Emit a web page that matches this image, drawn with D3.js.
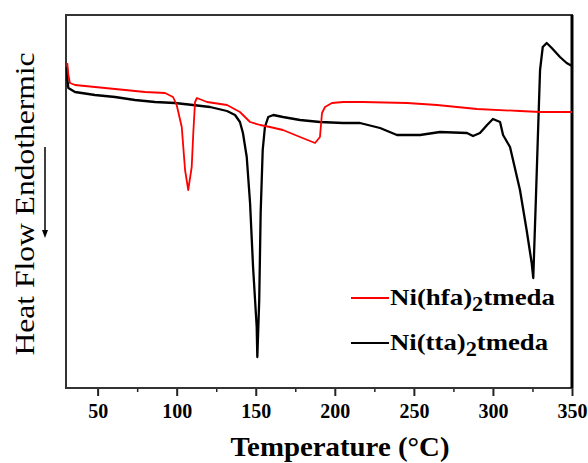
<!DOCTYPE html>
<html><head><meta charset="utf-8">
<script src="https://cdn.jsdelivr.net/npm/d3@7"></script>
<style>body{margin:0;background:#fff}svg{display:block}</style>
</head><body>
<svg id="c" width="588" height="463"></svg>
<script>
// Temperature (°C) and heat flow (a.u.)
const hfaT = [30.8,31.5,32.5,35.7,61.0,80.0,92.6,97.7,100.0,103.2,105.3,107.3,109.5,110.5,111.6,112.8,119.2,131.8,140.0,146.4,152.7,159.0,167.2,178.0,187.5,190.6,191.9,193.8,198.2,205.2,217.8,245.7,264.6,277.3,289.9,317.1,329.8,350];
const hfaV = [32.5,31.3,30.5,30.3,29.9,29.6,29.5,29.1,28.3,26.1,21.8,19.8,22.1,25.5,28.6,29.0,28.6,28.3,27.6,26.6,26.3,26.1,25.8,25.1,24.5,25.1,27.5,28.1,28.5,28.6,28.6,28.5,28.3,28.1,27.9,27.7,27.6,27.6];
const ttaT = [30.6,30.9,31.5,35.7,48.3,61.0,73.6,86.3,98.9,110.3,121.1,131.8,136.9,140.0,141.9,144.3,146.4,148.3,150.6,151.0,152.2,153.1,154.4,155.8,157.9,161.1,167.2,178.0,190.6,205.2,215.9,228.6,239.3,253.9,266.5,283.6,287.4,291.8,296.3,300.0,304.5,306.4,310.8,317.1,321.3,324.5,325.5,327.2,328.7,329.8,331.5,334.0,337.2,342.4,346.6,350];
const ttaV = [32.1,30.8,30.0,29.6,29.3,29.1,28.8,28.6,28.5,28.3,28.1,27.7,27.3,26.6,25.5,23.1,18.5,12.1,6.1,3.1,8.8,17.5,23.8,26.1,27.1,27.3,27.1,26.8,26.6,26.5,26.5,26.0,25.3,25.3,25.6,25.5,25.2,25.5,26.3,26.9,26.6,25.3,24.1,19.8,15.8,12.5,11.0,19.1,26.5,31.8,34.1,34.5,34.0,33.1,32.5,32.2];
const majorTicks = [50,100,150,200,250,300,350];
const minorTicks = [75,125,175,225,275,325];
const seriesNames = ["Ni(hfa)", "Ni(tta)"];
const seriesColors = ["#ff0000", "#000000"];
const xTitle = "Temperature (°C)";
const yTitle = "Heat Flow Endothermic";

const svg = d3.select("#c");
const L = 66, T = 15, R = 572, B = 388;
const x = d3.scaleLinear().domain([30, 350]).range([L, R]);
const y = d3.scaleLinear().domain([0, 37.3]).range([B, T]);

// minor ticks
svg.append("g").attr("transform", `translate(0,${B})`)
  .call(d3.axisBottom(x).tickValues(minorTicks).tickSize(4).tickFormat(""))
  .call(g => g.select(".domain").remove())
  .call(g => g.selectAll("line").attr("stroke", "#222").attr("stroke-width", 1.5));
// major ticks
const ax = svg.append("g").attr("transform", `translate(0,${B})`)
  .call(d3.axisBottom(x).tickValues(majorTicks).tickSize(8).tickPadding(8).tickFormat(d3.format("d")));
ax.select(".domain").remove();
ax.selectAll("line").attr("stroke", "#222").attr("stroke-width", 2);
ax.selectAll("text").attr("fill", "#000").attr("font-family", "Liberation Serif")
  .attr("font-weight", "bold").attr("font-size", 20).attr("dy", "0.71em");

// frame
svg.append("rect").attr("x", L).attr("y", T).attr("width", R - L).attr("height", B - T)
  .attr("fill", "none").attr("stroke", "#333").attr("stroke-width", 2);
svg.append("line").attr("x1", R).attr("x2", R).attr("y1", T).attr("y2", B)
  .attr("stroke", "#000").attr("stroke-width", 3);

// curves
const line = d3.line().x(d => x(d[0])).y(d => y(d[1]));
const hfa = hfaT.map((t, i) => [t, hfaV[i]]);
const tta = ttaT.map((t, i) => [t, ttaV[i]]);
svg.append("path").datum(tta).attr("d", line).attr("fill", "none")
  .attr("stroke", seriesColors[1]).attr("stroke-width", 2.3).attr("stroke-linejoin", "round");
svg.append("path").datum(hfa).attr("d", line).attr("fill", "none")
  .attr("stroke", seriesColors[0]).attr("stroke-width", 1.8).attr("stroke-linejoin", "round");

// axis titles
svg.append("text").attr("x", 340).attr("y", 456).attr("text-anchor", "middle")
  .attr("font-family", "Liberation Serif").attr("font-weight", "bold").attr("font-size", 28)
  .attr("textLength", 219).attr("lengthAdjust", "spacingAndGlyphs").text(xTitle);
svg.append("text").attr("transform", "translate(34,204) rotate(-90)").attr("text-anchor", "middle")
  .attr("font-family", "Liberation Serif").attr("font-size", 28)
  .attr("textLength", 303).attr("lengthAdjust", "spacingAndGlyphs").text(yTitle);
// arrow
svg.append("line").attr("x1", 45).attr("x2", 45).attr("y1", 147).attr("y2", 234)
  .attr("stroke", "#000").attr("stroke-width", 1.5);
svg.append("path").attr("d", "M42,230 L48,230 L45,238 Z").attr("fill", "#000");

// legend
const leg = [{y: 298, ty: 305, w: 165}, {y: 343, ty: 350, w: 158}];
leg.forEach((l, i) => {
  svg.append("line").attr("x1", 351).attr("x2", 389).attr("y1", l.y).attr("y2", l.y)
    .attr("stroke", seriesColors[i]).attr("stroke-width", 1.8);
  const t = svg.append("text").attr("x", 390).attr("y", l.ty)
    .attr("font-family", "Liberation Serif").attr("font-weight", "bold").attr("font-size", 24)
    .attr("textLength", l.w).attr("lengthAdjust", "spacingAndGlyphs");
  t.append("tspan").text(seriesNames[i]);
  t.append("tspan").attr("dy", 6).attr("font-size", 20).text("2");
  t.append("tspan").attr("dy", -6).text("tmeda");
});
</script>
</body></html>
